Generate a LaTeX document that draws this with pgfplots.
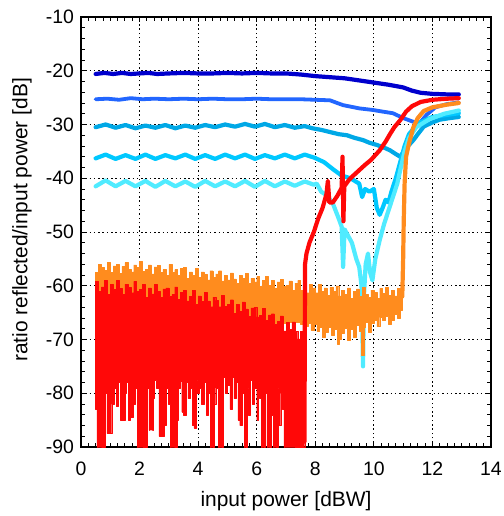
\documentclass[border=0pt]{standalone}
\usepackage{pgfplots}
\pgfplotsset{compat=1.18}
\usepackage{fontspec}
\setmainfont{Liberation Sans}
\definecolor{cA}{RGB}{0,0,205}
\definecolor{cB}{RGB}{34,102,255}
\definecolor{cC}{RGB}{0,168,230}
\definecolor{cD}{RGB}{0,200,255}
\definecolor{cE}{RGB}{80,235,255}
\definecolor{cO}{RGB}{255,140,30}
\definecolor{cR}{RGB}{255,8,8}
\begin{document}
\begin{tikzpicture}
\begin{axis}[
  width=410bp, height=430bp, scale only axis,
  xmin=0, xmax=14, ymin=-90, ymax=-10,
  xtick={0,2,...,14}, xticklabels={0,2,4,6,8,10,12,14},
  ytick={-90,-80,...,-10}, yticklabels={-90,-80,-70,-60,-50,-40,-30,-20,-10},
  minor x tick num=7, minor y tick num=4,
  tick align=inside,
  grid=major,
  major grid style={black, line width=0.8bp, dash pattern=on 1.5bp off 2.8bp},
  axis line style={line width=1.4bp},
  every tick/.style={black, line width=0.9bp},
  major tick length=5bp, minor tick length=4bp,
  tick label style={font=\fontsize{19.5}{21}\selectfont},
  label style={font=\fontsize{21}{24}\selectfont},
  xlabel={input power [dBW]},
  ylabel={ratio reflected/input power [dB]},
  xlabel style={at={(axis description cs:0.5,-0.1395)}, anchor=base},
  ylabel style={at={(axis description cs:-0.144,0.528)}, anchor=center},
  xticklabel style={anchor=base, yshift=-28bp},
  yticklabel style={anchor=east, xshift=-3.5bp},
  every axis plot/.append style={line join=round, line cap=round},
]
% S1 dark blue
\addplot[cA, line width=4.2bp] coordinates {
(0.5,-20.6) (0.8,-20.4) (1.1,-20.6) (1.4,-20.4) (1.7,-20.6) (2.0,-20.5) (2.3,-20.4) (2.6,-20.6) (3.0,-20.5) (3.5,-20.4) (4.0,-20.5) (4.5,-20.5) (5.0,-20.4) (5.5,-20.5) (6.0,-20.4) (6.5,-20.5) (7.0,-20.5) (7.5,-20.7) (8.0,-21.0) (8.5,-21.2) (9.0,-21.4) (9.5,-21.8) (10.0,-22.2) (10.5,-22.6) (11.0,-23.1) (11.3,-23.7) (11.6,-24.1) (12.0,-24.3) (12.5,-24.4) (12.9,-24.4)};
% S2 blue
\addplot[cB, line width=3.8bp] coordinates {
(0.5,-25.3) (0.9,-25.2) (1.3,-25.4) (1.7,-25.1) (2.1,-25.3) (2.5,-25.2) (3.0,-25.3) (3.5,-25.2) (4.0,-25.3) (4.5,-25.2) (5.0,-25.3) (5.5,-25.3) (6.0,-25.2) (6.5,-25.3) (7.0,-25.3) (7.5,-25.3) (8.0,-25.4) (8.5,-25.5) (8.95,-26.4) (9.5,-27.0) (9.97,-27.3) (10.3,-27.6) (10.65,-27.9) (11.0,-28.8) (11.35,-29.5) (11.57,-29.7) (11.8,-28.2) (12.1,-26.8) (12.5,-26.2) (12.9,-25.9)};
% S3
\addplot[cC, line width=4.2bp] coordinates {
(0.5,-30.5) (0.84,-30.0) (1.18,-30.6) (1.52,-30.1) (1.86,-30.7) (2.2,-30.2) (2.54,-30.6) (2.88,-30.1) (3.22,-30.7) (3.56,-30.2) (3.9,-30.6) (4.24,-30.1) (4.58,-30.5) (4.92,-30.0) (5.26,-30.4) (5.6,-29.9) (5.94,-30.4) (6.28,-29.9) (6.62,-30.5) (6.96,-30.1) (7.3,-30.6) (7.64,-30.3) (7.9,-30.7) (8.2,-31.0) (8.5,-31.4) (8.8,-31.8) (9.08,-32.0) (9.35,-32.5) (9.63,-32.9) (9.85,-33.4) (10.1,-33.8) (10.35,-34.3) (10.55,-34.8) (10.75,-35.5) (10.9,-36.0) (11.06,-34.7) (11.2,-33.8) (11.35,-32.9) (11.5,-31.8) (11.7,-30.4) (12.0,-29.6) (12.25,-29.1) (12.6,-28.8) (12.9,-28.6)};
% S4
\addplot[cD, line width=4.2bp] coordinates {
(0.5,-36.3) (0.84,-35.6) (1.18,-36.4) (1.52,-35.7) (1.86,-36.4) (2.2,-35.6) (2.54,-36.4) (2.88,-35.7) (3.22,-36.3) (3.56,-35.6) (3.9,-36.4) (4.24,-35.7) (4.58,-36.4) (4.92,-35.6) (5.26,-36.3) (5.6,-35.6) (5.94,-36.4) (6.28,-35.7) (6.62,-36.3) (6.96,-35.6) (7.3,-36.3) (7.64,-35.6) (7.98,-36.2) (8.3,-37.0) (8.6,-38.3) (8.9,-39.5) (9.2,-40.0) (9.5,-41.0) (9.6,-43.5) (9.7,-42.0) (9.85,-42.5) (10.0,-42.0) (10.1,-45.5) (10.2,-46.8) (10.3,-45.5) (10.4,-44.0) (10.5,-44.5) (10.6,-42.5) (10.75,-40.0) (10.9,-37.0) (11.05,-34.0) (11.2,-31.8) (11.5,-29.8) (12.0,-28.6) (12.5,-28.2) (12.9,-27.9)};
% S5
\addplot[cE, line width=4.2bp] coordinates {
(0.5,-41.5) (0.84,-40.4) (1.18,-41.5) (1.52,-40.5) (1.86,-41.5) (2.2,-40.5) (2.54,-41.6) (2.88,-40.5) (3.22,-41.5) (3.56,-40.6) (3.9,-41.6) (4.24,-40.5) (4.58,-41.5) (4.92,-40.6) (5.26,-41.5) (5.6,-40.5) (5.94,-41.6) (6.28,-40.5) (6.62,-41.5) (6.96,-40.6) (7.3,-41.4) (7.64,-40.6) (7.95,-41.2) (8.05,-41.0) (8.2,-42.5) (8.4,-43.2) (8.6,-44.7) (8.8,-47.5) (8.9,-49.0) (8.95,-56.5) (9.0,-49.5) (9.1,-50.5) (9.25,-52.0) (9.4,-55.0) (9.5,-56.5) (9.58,-60.0) (9.63,-75.0) (9.66,-62.0) (9.72,-56.0) (9.8,-54.0) (9.87,-57.5) (9.95,-59.0) (10.05,-55.0) (10.2,-51.5) (10.35,-48.5) (10.5,-46.0) (10.65,-43.5) (10.8,-41.0) (10.9,-38.5) (11.05,-35.0) (11.2,-32.5) (11.45,-30.5) (11.9,-29.0) (12.4,-28.0) (12.9,-27.4)};
% orange noisy band
\addplot[const plot, fill=cO, draw=cO, line width=0.4bp] coordinates {
(0.5,-57.5) (0.6,-56.0) (0.7,-56.6) (0.8,-57.1) (0.9,-55.7) (1.0,-57.5) (1.1,-56.3) (1.2,-56.0) (1.3,-57.7) (1.4,-56.4) (1.5,-55.7) (1.6,-56.9) (1.7,-57.4) (1.8,-56.1) (1.9,-56.6) (2.0,-55.5) (2.1,-57.3) (2.2,-56.9) (2.3,-56.1) (2.4,-57.8) (2.5,-56.5) (2.6,-56.2) (2.7,-57.5) (2.8,-57.0) (2.9,-58.0) (3.0,-56.0) (3.1,-57.5) (3.2,-57.0) (3.3,-58.1) (3.4,-56.8) (3.5,-56.6) (3.6,-58.6) (3.7,-57.4) (3.8,-58.1) (3.9,-56.7) (4.0,-58.4) (4.1,-57.4) (4.2,-57.9) (4.3,-58.9) (4.4,-57.2) (4.5,-58.4) (4.6,-57.8) (4.7,-57.2) (4.8,-59.1) (4.9,-58.1) (5.0,-58.9) (5.1,-57.6) (5.2,-58.7) (5.3,-59.6) (5.4,-58.1) (5.5,-58.6) (5.6,-57.7) (5.7,-59.6) (5.8,-58.6) (5.9,-59.3) (6.0,-58.3) (6.1,-60.1) (6.2,-59.0) (6.3,-58.3) (6.4,-59.9) (6.5,-59.0) (6.6,-60.5) (6.7,-59.3) (6.8,-58.8) (6.9,-60.1) (7.0,-59.9) (7.1,-59.1) (7.2,-60.8) (7.3,-59.5) (7.4,-59.0) (7.5,-60.8) (7.6,-60.1) (7.7,-61.3) (7.8,-59.7) (7.9,-60.4) (8.0,-61.3) (8.1,-59.8) (8.2,-61.0) (8.3,-60.4) (8.4,-61.8) (8.5,-60.3) (8.6,-61.0) (8.7,-60.0) (8.8,-61.9) (8.9,-60.8) (9.0,-61.6) (9.1,-60.4) (9.2,-62.3) (9.3,-61.0) (9.4,-60.6) (9.5,-62.0) (9.6,-60.3) (9.7,-61.6) (9.8,-62.2) (9.9,-60.8) (10.0,-61.2) (10.1,-62.3) (10.2,-60.5) (10.3,-61.4) (10.4,-60.3) (10.5,-61.8) (10.6,-60.8) (10.7,-61.9) (10.8,-60.5) (10.9,-61.4) (10.97,-61.0)
(10.97,-64.5) (10.9,-66.0) (10.8,-65.3) (10.7,-66.4) (10.6,-67.2) (10.5,-65.6) (10.4,-66.5) (10.3,-65.9) (10.2,-67.6) (10.1,-66.4) (10.0,-67.0) (9.9,-68.6) (9.8,-66.8) (9.72,-67.8) (9.68,-73.0) (9.63,-73.0) (9.58,-68.5) (9.5,-67.3) (9.4,-69.5) (9.3,-68.0) (9.2,-70.2) (9.1,-67.9) (9.0,-68.8) (8.9,-70.0) (8.82,-70.8) (8.75,-68.0) (8.65,-69.2) (8.55,-67.7) (8.45,-68.6) (8.35,-69.6) (8.25,-67.8) (8.15,-68.5) (8.05,-67.2) (7.95,-68.3) (7.85,-66.9) (7.75,-67.6) (7.65,-67.2) (7.5,-66.8) (7.0,-67.0) (6.5,-66.5) (6.0,-66.0) (5.5,-65.5) (5.0,-65.0) (4.0,-64.5) (3.0,-64.0) (2.0,-63.5) (1.0,-63.5) (0.5,-63.5)} --cycle;
% orange rise
\addplot[cO, line width=4.2bp] coordinates {
(10.97,-62.0) (11.0,-55.0) (11.02,-48.0) (11.05,-41.0) (11.1,-36.0) (11.2,-33.5) (11.35,-30.5) (11.5,-28.8) (11.7,-27.5) (12.0,-26.8) (12.5,-26.3) (12.9,-26.0)};
% red noisy band
\addplot[const plot, fill=cR, draw=cR, line width=0.4bp] coordinates {
(0.5,-59.2) (0.6,-61.0) (0.7,-60.2) (0.8,-59.0) (0.9,-61.6) (1.0,-59.8) (1.1,-60.7) (1.2,-59.0) (1.3,-60.5) (1.4,-61.6) (1.5,-59.7) (1.6,-60.3) (1.7,-61.3) (1.8,-59.2) (1.9,-61.0) (2.0,-60.7) (2.1,-59.8) (2.2,-62.1) (2.3,-60.4) (2.4,-61.5) (2.5,-59.8) (2.6,-61.0) (2.7,-62.2) (2.8,-60.6) (2.9,-60.4) (3.0,-62.0) (3.1,-61.6) (3.2,-60.2) (3.3,-62.5) (3.4,-61.2) (3.5,-60.9) (3.6,-62.8) (3.7,-62.0) (3.8,-60.9) (3.9,-63.5) (4.0,-61.9) (4.1,-62.9) (4.2,-61.2) (4.3,-62.8) (4.4,-63.9) (4.5,-62.1) (4.6,-62.7) (4.7,-63.9) (4.8,-61.8) (4.9,-63.8) (5.0,-63.5) (5.1,-62.6) (5.2,-65.1) (5.3,-63.4) (5.4,-64.7) (5.5,-63.0) (5.6,-64.3) (5.7,-65.7) (5.8,-64.1) (5.9,-64.0) (6.0,-65.8) (6.1,-65.5) (6.2,-64.2) (6.3,-66.5) (6.4,-65.4) (6.5,-65.2) (6.6,-67.2) (6.7,-66.6) (6.8,-65.6) (6.9,-68.4) (7.0,-66.8) (7.1,-68.1) (7.2,-66.7) (7.3,-68.5) (7.4,-69.9) (7.5,-68.5) (7.64,-70.0)
(7.64,-90) (6.96,-90) (6.93,-83) (6.88,-80) (6.82,-86) (6.75,-79) (6.72,-90) (6.6,-90) (6.57,-84) (6.5,-90) (6.38,-90) (6.35,-80) (6.28,-90) (6.2,-90) (6.17,-81) (6.1,-78) (6.05,-85) (6.0,-79) (5.93,-82) (5.85,-77.5) (5.78,-84) (5.72,-79) (5.67,-90) (5.6,-90) (5.57,-80) (5.5,-86) (5.42,-85) (5.36,-78) (5.3,-81) (5.22,-77) (5.15,-83) (5.08,-78.5) (5.0,-80) (4.93,-77) (4.85,-90) (4.75,-90) (4.7,-79) (4.6,-82) (4.54,-90) (4.47,-90) (4.42,-80) (4.35,-84) (4.28,-78) (4.2,-82) (4.12,-79) (4.05,-80) (3.98,-77.5) (3.94,-86.5) (3.85,-86) (3.8,-79) (3.72,-81) (3.65,-78) (3.58,-84) (3.5,-83.5) (3.44,-77.8) (3.38,-79) (3.33,-85) (3.3,-90) (3.1,-90) (3.05,-82) (2.98,-79) (2.9,-86) (2.83,-88) (2.72,-88) (2.66,-79) (2.58,-77.5) (2.5,-81) (2.47,-86.8) (2.38,-86.8) (2.32,-79) (2.25,-90) (1.98,-90) (1.92,-79) (1.85,-82) (1.79,-84.5) (1.68,-85) (1.62,-78) (1.55,-80) (1.5,-85) (1.4,-85) (1.35,-78) (1.28,-82.5) (1.2,-79) (1.12,-82) (1.05,-87.5) (0.93,-87.5) (0.88,-80) (0.82,-90) (0.58,-90) (0.54,-83) (0.5,-83)} --cycle;
% red rise
\addplot[cR, line width=4.2bp] coordinates {
(7.63,-89) (7.65,-56) (7.7,-54) (7.8,-52) (7.95,-50) (8.1,-47.5) (8.25,-45.5) (8.38,-43) (8.43,-40.5) (8.48,-44.5) (8.6,-44.5) (8.75,-43.3) (8.9,-41.8) (8.93,-36) (8.96,-48) (8.99,-41.5) (9.15,-40.3) (9.3,-39.5) (9.5,-38.5) (9.7,-37.5) (9.9,-36.6) (10.0,-36) (10.2,-34.8) (10.4,-33.2) (10.55,-31.8) (10.7,-30.5) (10.9,-29.2) (11.1,-27.6) (11.3,-26.6) (11.6,-25.8) (12.0,-25.4) (12.5,-25.2) (12.9,-25.1)};
\end{axis}
\pgfresetboundingbox
\path (-81bp,-69bp) rectangle (423bp,447bp);
\end{tikzpicture}
\end{document}
